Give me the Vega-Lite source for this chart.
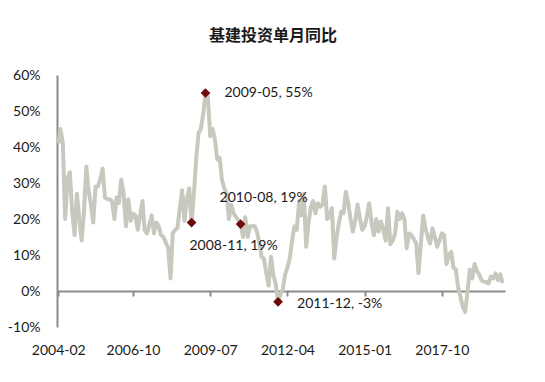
{
  "$schema": "https://vega.github.io/schema/vega-lite/v6.json",
  "width": 448,
  "height": 252,
  "autosize": {"type": "none"},
  "padding": {"left": 57, "top": 75, "right": 40, "bottom": 55},
  "background": "white",
  "title": {"text": "基建投资单月同比", "font": "Noto Sans CJK SC", "fontSize": 16, "fontWeight": "bold", "color": "#1a1a1a", "anchor": "middle", "offset": 24, "dx": -8},
  "data": {"values": [
    {"d":"2004-02","v":41},{"d":"2004-03","v":45},{"d":"2004-04","v":41},{"d":"2004-05","v":20},{"d":"2004-06","v":31},{"d":"2004-07","v":33},{"d":"2004-08","v":22},{"d":"2004-09","v":15.5},{"d":"2004-10","v":27},{"d":"2004-11","v":20},{"d":"2004-12","v":14},
    {"d":"2005-01","v":22},{"d":"2005-02","v":34.5},{"d":"2005-03","v":28},{"d":"2005-04","v":24},{"d":"2005-05","v":19},{"d":"2005-06","v":29},{"d":"2005-07","v":29},{"d":"2005-08","v":31},{"d":"2005-09","v":34},{"d":"2005-10","v":26},{"d":"2005-11","v":25.5},{"d":"2005-12","v":25.5},
    {"d":"2006-01","v":25},{"d":"2006-02","v":20},{"d":"2006-03","v":26},{"d":"2006-04","v":24.5},{"d":"2006-05","v":31},{"d":"2006-06","v":27},{"d":"2006-07","v":18},{"d":"2006-08","v":25.5},{"d":"2006-09","v":19.5},{"d":"2006-10","v":21.5},{"d":"2006-11","v":21},{"d":"2006-12","v":17},
    {"d":"2007-01","v":21},{"d":"2007-02","v":25},{"d":"2007-03","v":17},{"d":"2007-04","v":16},{"d":"2007-05","v":18.5},{"d":"2007-06","v":21},{"d":"2007-07","v":16},{"d":"2007-08","v":19},{"d":"2007-09","v":18},{"d":"2007-10","v":15.5},{"d":"2007-11","v":15},{"d":"2007-12","v":13.5},
    {"d":"2008-01","v":12},{"d":"2008-02","v":3.5},{"d":"2008-03","v":16},{"d":"2008-04","v":17},{"d":"2008-05","v":17.5},{"d":"2008-06","v":23},{"d":"2008-07","v":28},{"d":"2008-08","v":19.5},{"d":"2008-09","v":25.7},{"d":"2008-10","v":28.5},{"d":"2008-11","v":19,"label":"2008-11, 19%"},{"d":"2008-12","v":27},
    {"d":"2009-01","v":37},{"d":"2009-02","v":44},{"d":"2009-03","v":45},{"d":"2009-04","v":49},{"d":"2009-05","v":55,"label":"2009-05, 55%"},{"d":"2009-06","v":54},{"d":"2009-07","v":43},{"d":"2009-08","v":45},{"d":"2009-09","v":42},{"d":"2009-10","v":36.5},{"d":"2009-11","v":37},{"d":"2009-12","v":31},
    {"d":"2010-01","v":28.5},{"d":"2010-02","v":27},{"d":"2010-03","v":20},{"d":"2010-04","v":24},{"d":"2010-05","v":21.6},{"d":"2010-06","v":20.6},{"d":"2010-07","v":19.7},{"d":"2010-08","v":18.6,"label":"2010-08, 19%"},{"d":"2010-09","v":15},{"d":"2010-10","v":20.5},{"d":"2010-11","v":15},{"d":"2010-12","v":18},
    {"d":"2011-01","v":18},{"d":"2011-02","v":18},{"d":"2011-03","v":16.5},{"d":"2011-04","v":13.5},{"d":"2011-05","v":9.5},{"d":"2011-06","v":9},{"d":"2011-07","v":5},{"d":"2011-08","v":1.5},{"d":"2011-09","v":9.5},{"d":"2011-10","v":4.5},{"d":"2011-11","v":2},{"d":"2011-12","v":-3,"label":"2011-12, -3%"},
    {"d":"2012-01","v":-1},{"d":"2012-02","v":0.5},{"d":"2012-03","v":4.5},{"d":"2012-04","v":6.5},{"d":"2012-05","v":9},{"d":"2012-06","v":14},{"d":"2012-07","v":18},{"d":"2012-08","v":17},{"d":"2012-09","v":25},{"d":"2012-10","v":21},{"d":"2012-11","v":27},{"d":"2012-12","v":12.3},
    {"d":"2013-01","v":19},{"d":"2013-02","v":23.4},{"d":"2013-03","v":25},{"d":"2013-04","v":21.6},{"d":"2013-05","v":24.4},{"d":"2013-06","v":23.4},{"d":"2013-07","v":24},{"d":"2013-08","v":29},{"d":"2013-09","v":20},{"d":"2013-10","v":21},{"d":"2013-11","v":23},{"d":"2013-12","v":9},
    {"d":"2014-01","v":15},{"d":"2014-02","v":19},{"d":"2014-03","v":22},{"d":"2014-04","v":21.6},{"d":"2014-05","v":27.6},{"d":"2014-06","v":24.4},{"d":"2014-07","v":20},{"d":"2014-08","v":16.5},{"d":"2014-09","v":19.7},{"d":"2014-10","v":24},{"d":"2014-11","v":20},{"d":"2014-12","v":17},
    {"d":"2015-01","v":18},{"d":"2015-02","v":21},{"d":"2015-03","v":24.4},{"d":"2015-04","v":19},{"d":"2015-05","v":15.5},{"d":"2015-06","v":20},{"d":"2015-07","v":16.5},{"d":"2015-08","v":19.3},{"d":"2015-09","v":17},{"d":"2015-10","v":14},{"d":"2015-11","v":23},{"d":"2015-12","v":13},
    {"d":"2016-01","v":14},{"d":"2016-02","v":16},{"d":"2016-03","v":22},{"d":"2016-04","v":20},{"d":"2016-05","v":21.6},{"d":"2016-06","v":20},{"d":"2016-07","v":11.9},{"d":"2016-08","v":16},{"d":"2016-09","v":15.5},{"d":"2016-10","v":14.5},{"d":"2016-11","v":13.2},{"d":"2016-12","v":5},
    {"d":"2017-01","v":13},{"d":"2017-02","v":21},{"d":"2017-03","v":17.5},{"d":"2017-04","v":15},{"d":"2017-05","v":13.2},{"d":"2017-06","v":17.4},{"d":"2017-07","v":15},{"d":"2017-08","v":12.3},{"d":"2017-09","v":14},{"d":"2017-10","v":16},{"d":"2017-11","v":15.5},{"d":"2017-12","v":7.5},
    {"d":"2018-01","v":10},{"d":"2018-02","v":10.9},{"d":"2018-03","v":6.5},{"d":"2018-04","v":6},{"d":"2018-05","v":1},{"d":"2018-06","v":-1.6},{"d":"2018-07","v":-4.5},{"d":"2018-08","v":-5.8},{"d":"2018-09","v":0},{"d":"2018-10","v":6},{"d":"2018-11","v":3.5},{"d":"2018-12","v":7.5},
    {"d":"2019-01","v":5.5},{"d":"2019-02","v":4.5},{"d":"2019-03","v":3},{"d":"2019-04","v":2.6},{"d":"2019-05","v":2.5},{"d":"2019-06","v":2.1},{"d":"2019-07","v":4},{"d":"2019-08","v":3.5},{"d":"2019-09","v":4.9},{"d":"2019-10","v":3.0},{"d":"2019-11","v":4.6},{"d":"2019-12","v":2.2}
  ]},
  "encoding": {
    "x": {
      "field": "d", "type": "temporal",
      "scale": {"type": "utc", "domain": [{"year": 2004, "month": 1, "date": 16, "utc": true}, {"year": 2020, "month": 1, "date": 1, "utc": true}]},
      "axis": {
        "values": [
          {"year": 2004, "month": 2, "date": 1, "utc": true},
          {"year": 2006, "month": 10, "date": 1, "utc": true},
          {"year": 2009, "month": 7, "date": 1, "utc": true},
          {"year": 2012, "month": 4, "date": 1, "utc": true},
          {"year": 2015, "month": 1, "date": 1, "utc": true},
          {"year": 2017, "month": 10, "date": 1, "utc": true}
        ],
        "labelExpr": "utcFormat(datum.value, '%Y-%m')",
        "title": null, "grid": false, "offset": -36,
        "tickSize": 5, "tickWidth": 2, "tickColor": "#8a8a8a",
        "domainColor": "#8a8a8a", "domainWidth": 2,
        "labelPadding": 47, "labelFont": "Lato", "labelFontSize": 14, "labelColor": "#1a1a1a",
        "labelAngle": 0, "labelOverlap": false, "labelFlush": false
      }
    },
    "y": {
      "field": "v", "type": "quantitative",
      "scale": {"domain": [-10, 60], "nice": false},
      "axis": {
        "values": [-10, 0, 10, 20, 30, 40, 50, 60],
        "labelExpr": "datum.value + '%'",
        "title": null, "grid": false, "ticks": false,
        "domainColor": "#8a8a8a", "domainWidth": 2,
        "labelPadding": 17, "labelFont": "Lato", "labelFontSize": 14, "labelColor": "#1a1a1a",
        "labelFlush": false, "labelOverlap": false
      }
    }
  },
  "layer": [
    {"mark": {"type": "line", "color": "#c8c8bf", "strokeWidth": 4, "strokeJoin": "round"}},
    {"transform": [{"filter": "isValid(datum.label)"}],
     "mark": {"type": "point", "shape": "diamond", "filled": true, "size": 95, "color": "#6e0a0a", "opacity": 1}},
    {"transform": [{"filter": "datum.label === '2009-05, 55%'"}],
     "mark": {"type": "text", "align": "left", "baseline": "middle", "dx": 19, "dy": 0, "font": "Lato", "fontSize": 14, "color": "#1a1a1a"},
     "encoding": {"text": {"field": "label"}}},
    {"transform": [{"filter": "datum.label === '2010-08, 19%'"}],
     "mark": {"type": "text", "align": "center", "baseline": "middle", "dx": 23, "dy": -26, "font": "Lato", "fontSize": 14, "color": "#1a1a1a"},
     "encoding": {"text": {"field": "label"}}},
    {"transform": [{"filter": "datum.label === '2008-11, 19%'"}],
     "mark": {"type": "text", "align": "center", "baseline": "middle", "dx": 42, "dy": 23, "font": "Lato", "fontSize": 14, "color": "#1a1a1a"},
     "encoding": {"text": {"field": "label"}}},
    {"transform": [{"filter": "datum.label === '2011-12, -3%'"}],
     "mark": {"type": "text", "align": "left", "baseline": "middle", "dx": 19, "dy": 2, "font": "Lato", "fontSize": 14, "color": "#1a1a1a"},
     "encoding": {"text": {"field": "label"}}}
  ],
  "config": {"view": {"stroke": null}}
}
